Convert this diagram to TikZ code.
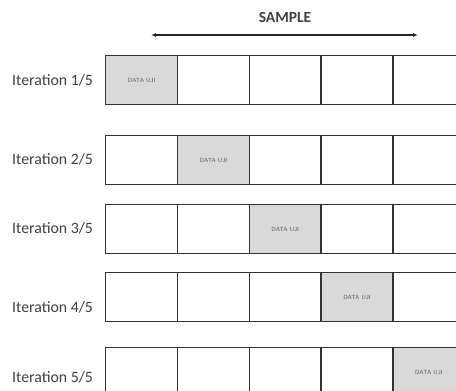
\documentclass[tikz,border=0pt]{standalone}
\usepackage{fontspec}
\setmainfont{Carlito}
\usetikzlibrary{arrows.meta}
\definecolor{txt}{HTML}{404040}
\definecolor{cellgray}{HTML}{D9D9D9}
\definecolor{edge}{HTML}{333333}
\tikzset{
  cell/.style={draw=edge, line width=1.4pt, minimum width=71.8pt, minimum height=49pt, inner sep=0pt, anchor=north west, fill=white},
  testcell/.style={cell, fill=cellgray, font=\fontsize{6}{7}\selectfont\sffamily, text=txt!85},
  itlabel/.style={font=\fontsize{15.8}{18}\selectfont, text=txt, anchor=west, inner sep=0pt},
}
\begin{document}
\begin{tikzpicture}[x=1pt,y=-1pt]
\useasboundingbox (0,0) rectangle (456,391);
\fill[white] (0,0) rectangle (456,391);
\node[font=\bfseries\fontsize{15.5}{18}\selectfont, text=txt] (sample) at (285,17) {SAMPLE};
\coordinate (al) at (151,35);
\coordinate (ar) at (418,35);
\draw[line width=1.1pt, draw=black!85, {Latex[length=5pt,width=4pt]}-{Latex[length=5pt,width=4pt]}] (al) -- (ar);
\foreach \r/\top/\ly in {1/55/80, 2/135/159, 3/204/228, 4/272/307, 5/347/377}{
  \node[itlabel] (lab\r) at (12,\ly) {Iteration \r/5};
  \foreach \c in {1,...,5}{
    \pgfmathsetmacro{\xx}{105+(\c-1)*71.8}
    \ifnum\c=\r
      \node[testcell] (cell\r\c) at (\xx,\top) {DATA UJI};
    \else
      \node[cell] (cell\r\c) at (\xx,\top) {};
    \fi
  }
}
\end{tikzpicture}
\end{document}
